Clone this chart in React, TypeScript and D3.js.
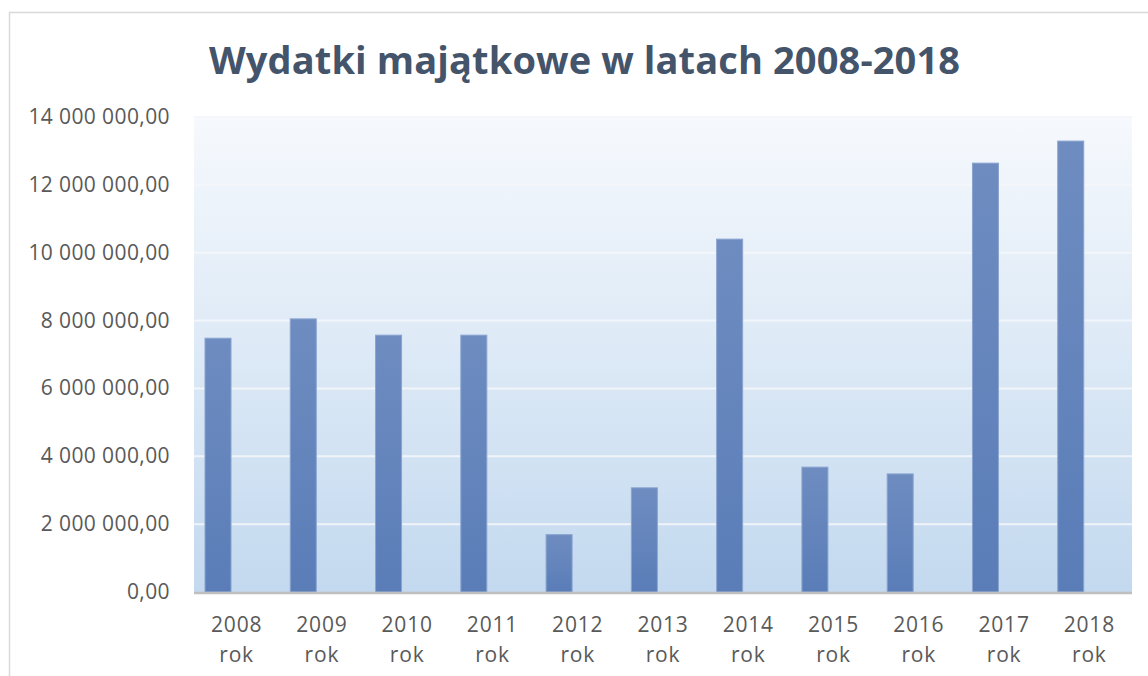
import React, { useEffect, useRef } from 'react';
import * as d3 from 'd3';

const years = ['2008', '2009', '2010', '2011', '2012', '2013', '2014', '2015', '2016', '2017', '2018'];
const values = [7480000, 8050000, 7570000, 7570000, 1690000, 3070000, 10400000, 3680000, 3480000, 12640000, 13290000];
const yTicks = [0, 2000000, 4000000, 6000000, 8000000, 10000000, 12000000, 14000000];
const title = 'Wydatki majątkowe w latach 2008-2018';

const W = 1148, H = 676;
const margin = { top: 117, right: 16, bottom: 84, left: 194 };

function fmt(v: number) {
  // polish style: space thousands, comma decimals
  const s = d3.format(',.2f')(v);
  return s.replace(/,/g, ' ').replace('.', ',');
}

export default function App() {
  const ref = useRef<SVGSVGElement>(null);

  useEffect(() => {
    const svg = d3.select(ref.current);
    svg.selectAll('*').remove();
    const width = W - margin.left - margin.right;
    const height = H - margin.top - margin.bottom;

    const defs = svg.append('defs');
    const bg = defs.append('linearGradient').attr('id', 'bg').attr('x1', 0).attr('y1', 0).attr('x2', 0).attr('y2', 1);
    bg.append('stop').attr('offset', '0%').attr('stop-color', '#f6f9fd');
    bg.append('stop').attr('offset', '100%').attr('stop-color', '#c3d9ef');
    const bar = defs.append('linearGradient').attr('id', 'bar').attr('x1', 0).attr('y1', 0).attr('x2', 0).attr('y2', 1);
    bar.append('stop').attr('offset', '0%').attr('stop-color', '#6e8cc0');
    bar.append('stop').attr('offset', '100%').attr('stop-color', '#5a7db8');

    // outer frame
    svg.append('rect').attr('x', 9.5).attr('y', 12.5).attr('width', W + 10).attr('height', H + 10)
      .attr('fill', '#fff').attr('stroke', '#d9d9d9').attr('stroke-width', 1.5);

    svg.append('text')
      .attr('x', 209).attr('y', 74)
      .attr('textLength', 751)
      .attr('lengthAdjust', 'spacing')
      .attr('font-family', '"Open Sans", sans-serif')
      .attr('font-weight', 700)
      .attr('font-size', 38)
      .attr('fill', '#44546a')
      .text(title);

    const g = svg.append('g').attr('transform', `translate(${margin.left},${margin.top})`);

    const x = d3.scaleBand().domain(years).range([0, width]);
    const y = d3.scaleLinear().domain([0, 14000000]).range([height, 0]);

    g.append('rect').attr('width', width).attr('height', height).attr('fill', 'url(#bg)');

    // gridlines
    g.selectAll('line.grid').data(yTicks.slice(1)).enter().append('line')
      .attr('class', 'grid')
      .attr('x1', 0).attr('x2', width)
      .attr('y1', d => y(d)).attr('y2', d => y(d))
      .attr('stroke', '#f4f6f9').attr('stroke-opacity', 0.9).attr('stroke-width', 2);

    // bars (offset left within category, as in the original)
    const bw = x.bandwidth() * 0.305;
    g.selectAll('rect.bar').data(values).enter().append('rect')
      .attr('class', 'bar')
      .attr('x', (d, i) => (x(years[i]) as number) + x.bandwidth() * 0.129)
      .attr('y', d => y(d))
      .attr('width', bw)
      .attr('height', d => height - y(d))
      .attr('fill', 'url(#bar)')
      .attr('stroke', '#8aa4cf').attr('stroke-width', 1);

    // baseline
    g.append('line').attr('x1', 0).attr('x2', width).attr('y1', height + 1).attr('y2', height + 1)
      .attr('stroke', '#bfbfbf').attr('stroke-width', 2.5);

    // y labels
    g.selectAll('text.ylab').data(yTicks).enter().append('text')
      .attr('class', 'ylab')
      .attr('x', -24).attr('y', d => y(d) + 7)
      .attr('text-anchor', 'end')
      .attr('font-family', '"Open Sans", sans-serif')
      .attr('font-size', 21)
      .attr('letter-spacing', 0.4)
      .attr('fill', '#595959')
      .text(d => fmt(d));

    // x labels
    const xl = g.selectAll('text.xlab').data(years).enter().append('text')
      .attr('class', 'xlab')
      .attr('text-anchor', 'middle')
      .attr('font-family', '"Open Sans", sans-serif')
      .attr('font-size', 21)
      .attr('letter-spacing', 0.8)
      .attr('fill', '#595959');
    xl.append('tspan').attr('x', d => (x(d) as number) + x.bandwidth() / 2).attr('y', height + 40).text(d => d);
    xl.append('tspan').attr('x', d => (x(d) as number) + x.bandwidth() / 2).attr('y', height + 70).text('rok');
  }, []);

  return <svg ref={ref} width={W} height={H} style={{ display: 'block', position: 'absolute', left: 0, top: 0 }} />;
}
